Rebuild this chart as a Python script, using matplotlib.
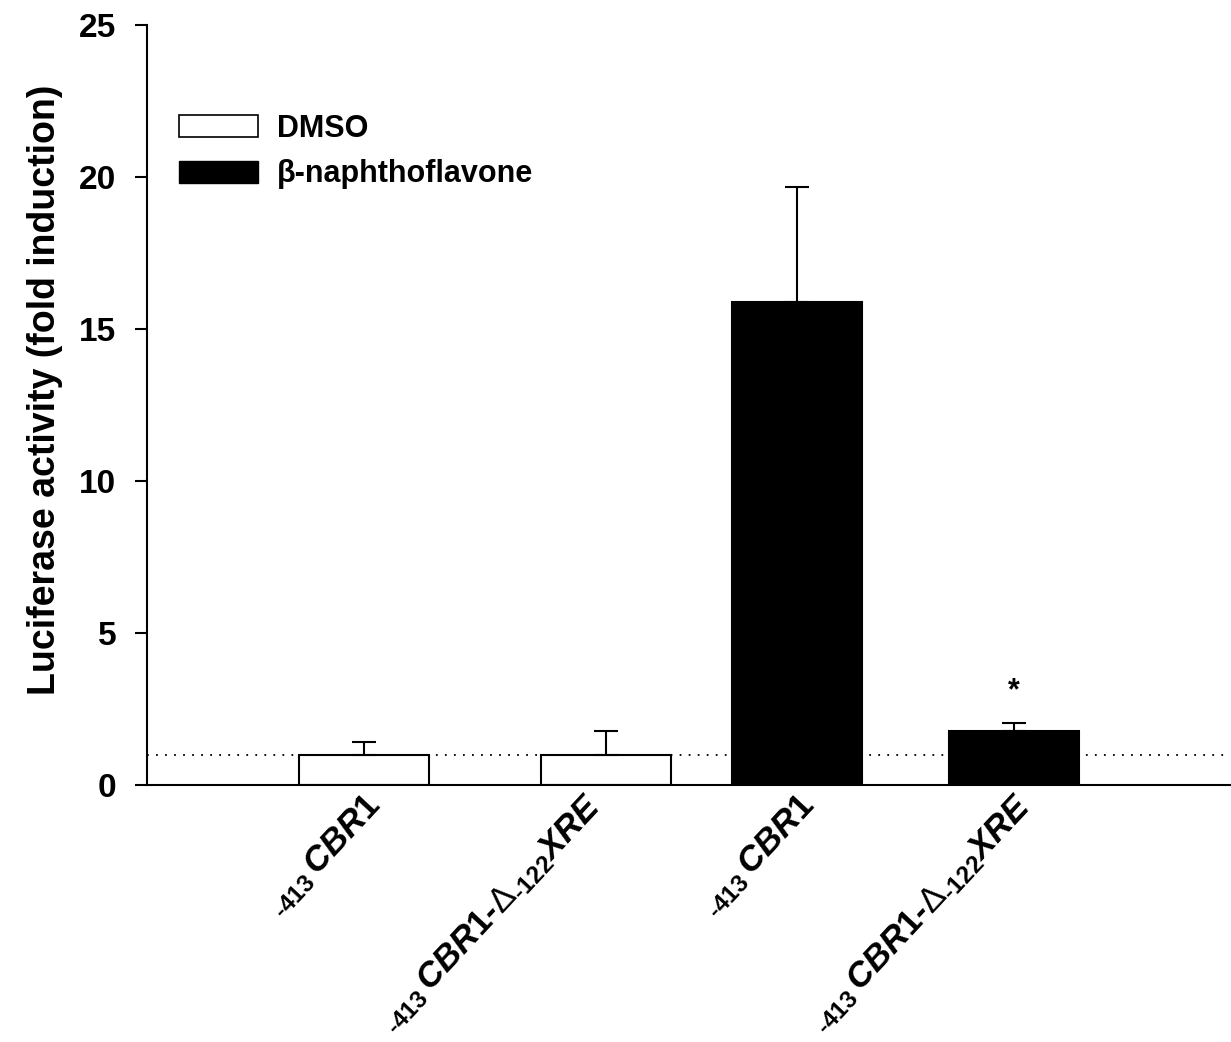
import matplotlib
matplotlib.use("Agg")
import matplotlib.pyplot as plt
from matplotlib.patches import Patch
from matplotlib.transforms import ScaledTranslation

plt.rcParams['font.family'] = ['Liberation Sans', 'DejaVu Sans']
plt.rcParams['mathtext.fontset'] = 'custom'
plt.rcParams['mathtext.rm'] = 'Liberation Sans:bold'
plt.rcParams['mathtext.it'] = 'Liberation Sans:italic:bold'
plt.rcParams['mathtext.sf'] = 'Liberation Sans'

# data
labels = [r'$_{\text{-413}}\,\mathit{CBR1}$',
          r'$_{\text{-413}}\,\mathit{CBR1}$-$\mathsf{\Delta}_{\text{-122}}\mathit{XRE}$',
          r'$_{\text{-413}}\,\mathit{CBR1}$',
          r'$_{\text{-413}}\,\mathit{CBR1}$-$\mathsf{\Delta}_{\text{-122}}\mathit{XRE}$']
positions = [1.0, 2.12, 3.0, 4.0]
means = [1.0, 1.0, 15.9, 1.78]
errors = [0.41, 0.78, 3.77, 0.25]
colors = ['white', 'white', 'black', 'black']
legend_names = ['DMSO', 'β-naphthoflavone']

fig = plt.figure(figsize=(12.31, 10.42), dpi=100)
ax = fig.add_axes([0.1194, 0.2466, 0.88, 0.7294])

ax.axhline(1, color='black', linestyle=(0, (1, 4)), linewidth=1.3, zorder=1)
ax.bar(positions, means, width=0.6, color=colors, edgecolor='black',
       linewidth=1.5, zorder=2)
ax.errorbar(positions, means, yerr=[[0] * 4, errors], fmt='none',
            ecolor='black', elinewidth=1.5, capsize=8.5, capthick=1.5, zorder=3)

# significance mark
ax.text(positions[3], 2.6, '*', ha='center', va='bottom',
        fontsize=22, fontweight='bold')

ax.set_xlim(0, 5)
ax.set_ylim(0, 25)
ax.set_yticks([0, 5, 10, 15, 20, 25])
ax.tick_params(axis='y', direction='out', length=9, width=1.5, labelsize=24,
               pad=13)
for t in ax.get_yticklabels():
    t.set_fontweight('bold')
ax.set_xticks(positions)
ax.set_xticklabels(labels, rotation=47, ha='right', rotation_mode='anchor',
                   fontsize=25, fontweight='bold', fontstyle='italic')
ax.tick_params(axis='x', length=0, pad=3)
# second label sits a bit left of its bar in the original
lab2 = ax.get_xticklabels()[1]
lab2.set_transform(lab2.get_transform() +
                   ScaledTranslation(-0.22, 0, fig.dpi_scale_trans))

ax.set_ylabel('Luciferase activity (fold induction)', fontsize=27,
              fontweight='bold', labelpad=12)
ax.yaxis.label.set_y(0.52)

for s in ['top', 'right']:
    ax.spines[s].set_visible(False)
for s in ['left', 'bottom']:
    ax.spines[s].set_linewidth(1.5)

handles = [Patch(facecolor='white', edgecolor='black', linewidth=1.2),
           Patch(facecolor='black', edgecolor='black')]
leg = ax.legend(handles, legend_names, loc='upper left',
                bbox_to_anchor=(0.004, 0.919), frameon=False,
                handlelength=2.6, handleheight=0.72, labelspacing=0.5,
                handletextpad=0.6,
                prop={'size': 22, 'weight': 'bold'})

fig.savefig('out.png', dpi=100)
